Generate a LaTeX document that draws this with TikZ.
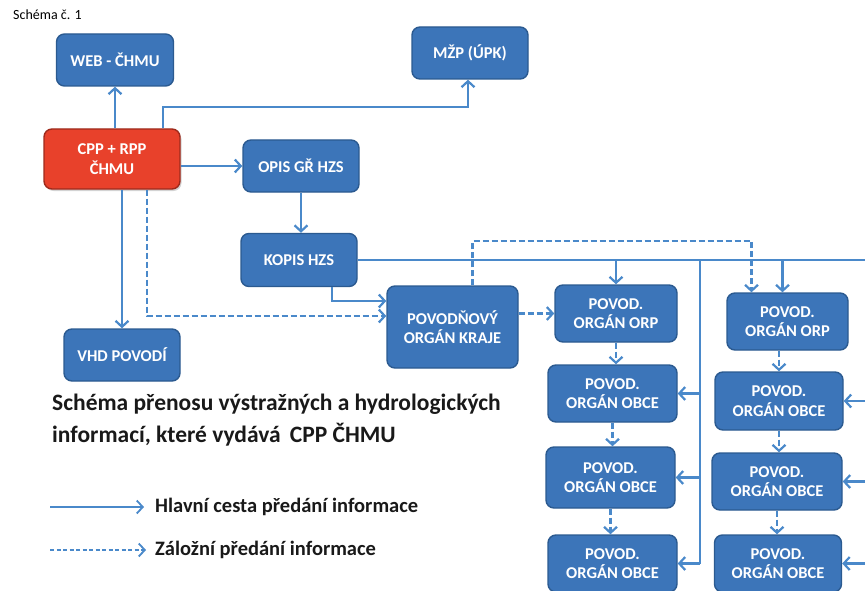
\documentclass[tikz,border=0pt]{standalone}
\usepackage{fontspec}
\setmainfont{Carlito}
\usepackage{tikz}
\usetikzlibrary{arrows.meta,shadows}
\definecolor{boxfill}{HTML}{3C75B9}
\definecolor{boxline}{HTML}{2B5A90}
\definecolor{linkblue}{HTML}{4A89CA}
\definecolor{cppfill}{HTML}{E8412B}
\definecolor{cppline}{HTML}{9E2A1C}
\begin{document}
\begin{tikzpicture}[x=1pt,y=-1pt,
  box/.style={draw=boxline,fill=boxfill,rounded corners=8pt,line width=1.4pt,text=white,
    font=\bfseries\fontsize{16.5}{19.5}\selectfont,align=center,inner sep=2pt},
  redbox/.style={box,draw=cppline,fill=cppfill,drop shadow={opacity=0.35,shadow xshift=1.5pt,shadow yshift=-2pt}},
  mainpath/.style={draw=linkblue,line width=2.2pt,-{Straight Barb[length=6pt,width=13pt]}},
  bare/.style={draw=linkblue,line width=2.2pt},
  backup/.style={mainpath,dash pattern=on 6pt off 3pt}]
\useasboundingbox (0,0) rectangle (865,591);
\node (head) [anchor=west,inner sep=0pt,font=\fontsize{14}{16}\selectfont] at (13,15) {Schéma č. 1};
\node (web) [box,minimum width=117pt,minimum height=52pt] at (115,60) {WEB - ČHMU};
\node (mzp) [box,minimum width=116pt,minimum height=52pt] at (470,53) {MŽP (ÚPK)};
\node (cpp) [redbox,minimum width=136pt,minimum height=60pt] at (112,159) {CPP + RPP\\ČHMU};
\node (opis) [box,minimum width=116pt,minimum height=52pt] at (301,166) {OPIS GŘ HZS};
\node (kopis) [box,minimum width=116pt,minimum height=53pt] at (299,260) {KOPIS HZS};
\node (vhd) [box,minimum width=116pt,minimum height=52pt] at (122,355) {VHD POVODÍ};
\node (kraj) [box,minimum width=131pt,minimum height=82pt] at (452.5,327) {POVODŇOVÝ\\ORGÁN KRAJE};
\node (orpA) [box,minimum width=122pt,minimum height=57pt] at (616,313.5) {POVOD.\\ORGÁN ORP};
\node (obceA1) [box,minimum width=129pt,minimum height=57pt] at (612.5,393.5) {POVOD.\\ORGÁN OBCE};
\node (obceA2) [box,minimum width=129pt,minimum height=61pt] at (610.5,477.5) {POVOD.\\ORGÁN OBCE};
\node (obceA3) [box,minimum width=129pt,minimum height=57pt] at (612.5,563.5) {POVOD.\\ORGÁN OBCE};
\node (orpB) [box,minimum width=121pt,minimum height=57pt] at (787.5,321.5) {POVOD.\\ORGÁN ORP};
\node (obceB1) [box,minimum width=128pt,minimum height=58pt] at (779,401) {POVOD.\\ORGÁN OBCE};
\node (obceB2) [box,minimum width=130pt,minimum height=57pt] at (777,481.5) {POVOD.\\ORGÁN OBCE};
\node (obceB3) [box,minimum width=127pt,minimum height=57pt] at (778,563.5) {POVOD.\\ORGÁN OBCE};
\coordinate (busA) at (700,260);
\coordinate (busB) at (868,260);
\draw [mainpath] (cpp.north -| web.south) -- (web.south);
\draw [mainpath] ([xshift=51pt]cpp.north) -- ++(0,-21) -| ([xshift=-2pt]mzp.south);
\draw [mainpath] (cpp.east |- opis.west) -- (opis.west);
\draw [mainpath] (opis.south) -- (opis.south |- kopis.north);
\draw [mainpath] (vhd.north |- cpp.south) -- (vhd.north);
\draw [backup] ([xshift=35pt]cpp.south) |- ([yshift=11pt]kraj.west);
\draw [mainpath] ([xshift=33pt]kopis.south) |- ([yshift=26pt]kraj.west);
\draw [bare] (kopis.east) -- (busB);
\draw [mainpath] (orpA.north |- kopis.east) -- (orpA.north);
\draw [mainpath] ([xshift=-5pt]orpB.north |- kopis.east) -- ([xshift=-5pt]orpB.north);
\draw [bare] (busA) -- (busA |- obceA3.east);
\draw [mainpath] (busA |- obceA1.east) -- (obceA1.east);
\draw [mainpath] (busA |- obceA2.east) -- (obceA2.east);
\draw [mainpath] (busA |- obceA3.east) -- (obceA3.east);
\draw [mainpath] (busB |- obceB1.east) -- (obceB1.east);
\draw [mainpath] (busB |- obceB2.east) -- (obceB2.east);
\draw [mainpath] (busB |- obceB3.east) -- (obceB3.east);
\draw [backup] ([xshift=20pt]kraj.north) -- ++(0,-44) -| ([xshift=-36pt]orpB.north);
\draw [backup] (kraj.east |- orpA.west) -- (orpA.west);
\draw [backup] (orpA.south) -- (orpA.south |- obceA1.north);
\draw [backup] (obceA1.south) -- (obceA1.south |- obceA2.north);
\draw [backup] (obceA2.south) -- (obceA2.south |- obceA3.north);
\draw [backup] (obceB1.north |- orpB.south) -- (obceB1.north);
\draw [backup] (obceB1.south) -- (obceB1.south |- obceB2.north);
\draw [backup] (obceB2.south) -- (obceB2.south |- obceB3.north);
\node (title) [anchor=north west,inner sep=0pt,align=left,text=black!90,
  font=\bfseries\fontsize{23.5}{32}\selectfont] at (52,394) {Schéma přenosu výstražných a hydrologických\\informací, které vydává\, CPP ČHMU};
\node (mainlab) [anchor=west,inner sep=0pt,text=black!90,font=\bfseries\fontsize{20.5}{22}\selectfont] at (155,507) {Hlavní cesta předání informace};
\node (backlab) [anchor=west,inner sep=0pt,text=black!90,font=\bfseries\fontsize{20.5}{22}\selectfont] at (155,550) {Záložní předání informace};
\coordinate (mainfrom) at (50,507);
\coordinate (backfrom) at (50,550);
\draw [mainpath,line width=1.8pt] (mainfrom) -- ([xshift=-11pt]mainlab.west);
\draw [backup,line width=1.8pt,dash pattern=on 4pt off 2.5pt] (backfrom) -- ([xshift=-9pt]backlab.west);
\end{tikzpicture}
\end{document}
